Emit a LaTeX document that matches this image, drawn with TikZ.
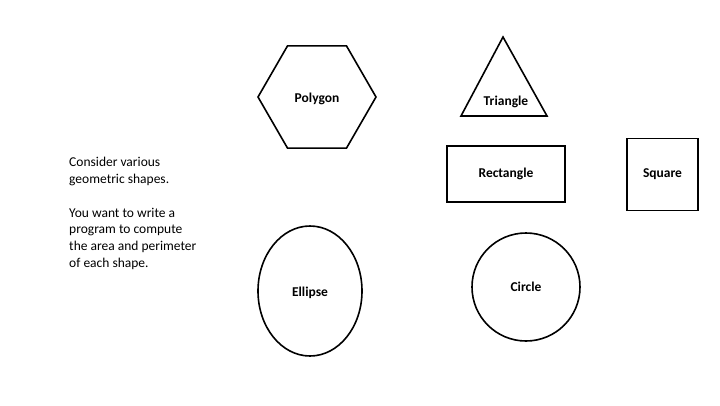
\documentclass[tikz,border=0pt]{standalone}
\usepackage{fontspec}
\setmainfont{Carlito}
\usetikzlibrary{shapes.geometric}
\tikzset{fig/.style={
    line width=1.6pt,
    font=\bfseries\fontsize{13.5}{15}\selectfont}}

\begin{document}
\begin{tikzpicture}[x=1pt, y=-1pt]
  \useasboundingbox (0,0) rectangle (720,405);
\coordinate (PG) at (317,97);
\coordinate (RC) at (506,174);
\coordinate (SQ) at (662.5,174.5);
\coordinate (EL) at (310,291);
\coordinate (CI) at (526,287);
\coordinate (T1) at (461,116);
\coordinate (T2) at (503,37);
\coordinate (T3) at (547,116);

\node[anchor=north west,
  align=left,
  font=\fontsize{13.5}{16.7}\selectfont] (intro) at (65.7,154)
  {Consider various\\geometric shapes.\\[16.7pt]
   You want to write a\\program to compute\\the area and perimeter\\of each shape.};

\node[fig,
  regular polygon,
  regular polygon sides=6,
  minimum size=118pt,
  draw] (poly) at (PG) {};
\node[fig] (polylabel) at ([yshift=-1.5pt]poly.center) {Polygon};

\draw[fig] (T1) -- (T2) -- (T3) -- cycle;
\node[fig] (tri) at (506,102) {Triangle};

\node[fig,
  rectangle,
  minimum width=118pt,
  minimum height=56pt,
  draw] (rect) at (RC) {Rectangle};

\node[fig,
  rectangle,
  minimum width=71pt,
  minimum height=72pt,
  draw] (sq) at (SQ) {Square};

\node[fig,
  ellipse,
  minimum width=104pt,
  minimum height=130pt,
  draw] (ell) at (EL) {};
\node[fig] (elllabel) at ([yshift=-2pt]ell.center) {Ellipse};

\node[fig,
  circle,
  minimum size=108pt,
  draw] (circ) at (CI) {Circle};

\end{tikzpicture}
\end{document}
